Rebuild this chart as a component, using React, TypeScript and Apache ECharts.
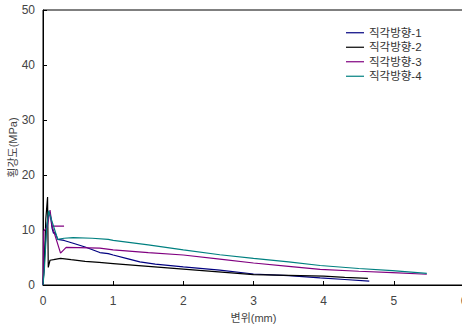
import React, { useEffect, useRef } from "react";
import * as echarts from "echarts";

const seriesNames = ["직각방향-1", "직각방향-2", "직각방향-3", "직각방향-4"];
const seriesColors = ["#000080", "#000000", "#800080", "#008080"];

const s1: number[][] = [
  [0, 0], [0.02, 5], [0.05, 10.5], [0.08, 12.6], [0.1, 13.2], [0.13, 10.3], [0.15, 9.4], [0.17, 9.6],
  [0.21, 8.3], [0.3, 8.1], [0.43, 7.6], [0.6, 6.9], [0.81, 5.9], [0.93, 5.7], [1.0, 5.45],
  [1.2, 4.8], [1.38, 4.2], [1.6, 3.8], [2.0, 3.3], [2.52, 2.7], [3.0, 2.0], [3.5, 1.7],
  [3.95, 1.3], [4.3, 1.0], [4.65, 0.7],
];
const s2: number[][] = [
  [0, 0], [0.02, 4], [0.04, 12], [0.065, 16], [0.075, 3.2], [0.1, 4.5], [0.15, 4.6], [0.25, 4.85],
  [0.4, 4.6], [0.6, 4.3], [0.8, 4.1], [1.0, 3.9], [1.5, 3.4], [2.0, 2.9], [2.5, 2.4], [3.0, 1.9],
  [3.5, 1.75], [4.0, 1.6], [4.3, 1.4], [4.63, 1.2],
];
const s3: number[][] = [
  [0, 0], [0.01, 9.8], [0.06, 10.5], [0.1, 13.6], [0.13, 10.7], [0.3, 10.7], [0.13, 10.7],
  [0.25, 5.8], [0.33, 6.85], [0.5, 6.8], [0.81, 6.7], [1.0, 6.4], [1.5, 5.9], [2.0, 5.45],
  [2.52, 4.7], [3.0, 4.0], [3.5, 3.4], [3.95, 2.85], [4.5, 2.5], [4.98, 2.25], [5.47, 1.95],
];
const s4: number[][] = [
  [0, 0], [0.02, 3], [0.05, 10], [0.08, 13.5], [0.21, 8.3], [0.3, 8.5], [0.43, 8.6], [0.7, 8.5],
  [0.93, 8.3], [1.0, 8.1], [1.5, 7.3], [2.0, 6.4], [2.52, 5.5], [3.0, 4.85], [3.5, 4.2],
  [3.95, 3.55], [4.5, 3.0], [4.98, 2.6], [5.47, 2.1],
];
const seriesData = [s1, s2, s3, s4];

const xTicks = { min: 0, max: 6, interval: 1 };
const yTicks = { min: 0, max: 50, interval: 10 };

export default function App() {
  const ref = useRef<HTMLDivElement>(null);
  useEffect(() => {
    document.body.style.margin = "0";
    const chart = echarts.init(ref.current!, null, { renderer: "svg" });
    const font = "'Liberation Sans', 'Noto Sans CJK KR', sans-serif";
    chart.setOption({
      animation: false,
      backgroundColor: "#ffffff",
      textStyle: { fontFamily: font },
      grid: {
        left: 43, top: 10, width: 421, height: 275,
        outerBoundsMode: "none",
        containLabel: false,
        show: true, borderColor: "#000", borderWidth: 1, backgroundColor: "transparent",
      },
      legend: {
        orient: "vertical",
        left: 341,
        top: 22,
        itemWidth: 18,
        itemHeight: 10,
        itemGap: 3,
        icon: "path://M0,4.5 L18,4.5 L18,5.7 L0,5.7 Z",
        textStyle: { fontFamily: font, fontSize: 11.5, color: "#333" },
        data: seriesNames,
      },
      xAxis: {
        type: "value",
        min: xTicks.min, max: xTicks.max, interval: xTicks.interval,
        name: "변위(mm)",
        nameLocation: "middle",
        nameGap: 27,
        nameMoveOverlap: false,
        nameTextStyle: { fontFamily: font, fontSize: 11, color: "#444" },
        axisLine: { show: true, lineStyle: { color: "#000", width: 1 } },
        axisTick: { show: true, inside: true, length: 4, lineStyle: { color: "#000" } },
        axisLabel: { fontFamily: font, fontSize: 12, color: "#444", margin: 10 },
        splitLine: { show: false },
      },
      yAxis: {
        type: "value",
        min: yTicks.min, max: yTicks.max, interval: yTicks.interval,
        name: "횡강도(MPa)",
        nameLocation: "middle",
        nameGap: 30,
        nameMoveOverlap: false,
        nameRotate: 90,
        nameTextStyle: { fontFamily: font, fontSize: 11, color: "#444", verticalAlign: "middle" },
        axisLine: { show: true, lineStyle: { color: "#000", width: 1 } },
        axisTick: { show: true, inside: true, length: 4, lineStyle: { color: "#000" } },
        axisLabel: { fontFamily: font, fontSize: 12, color: "#444", margin: 8 },
        splitLine: { show: false },
      },
      series: seriesNames.map((n, i) => ({
        name: n,
        type: "line",
        data: seriesData[i],
        showSymbol: false,
        symbol: "none",
        color: seriesColors[i],
        lineStyle: { color: seriesColors[i], width: 1.2 },
      })),
    });
    return () => chart.dispose();
  }, []);
  return (
    <div style={{ position: "absolute", left: 0, top: 0, width: 462, height: 326, overflow: "hidden" }}>
      <div ref={ref} style={{ width: 472, height: 326 }} />
    </div>
  );
}
